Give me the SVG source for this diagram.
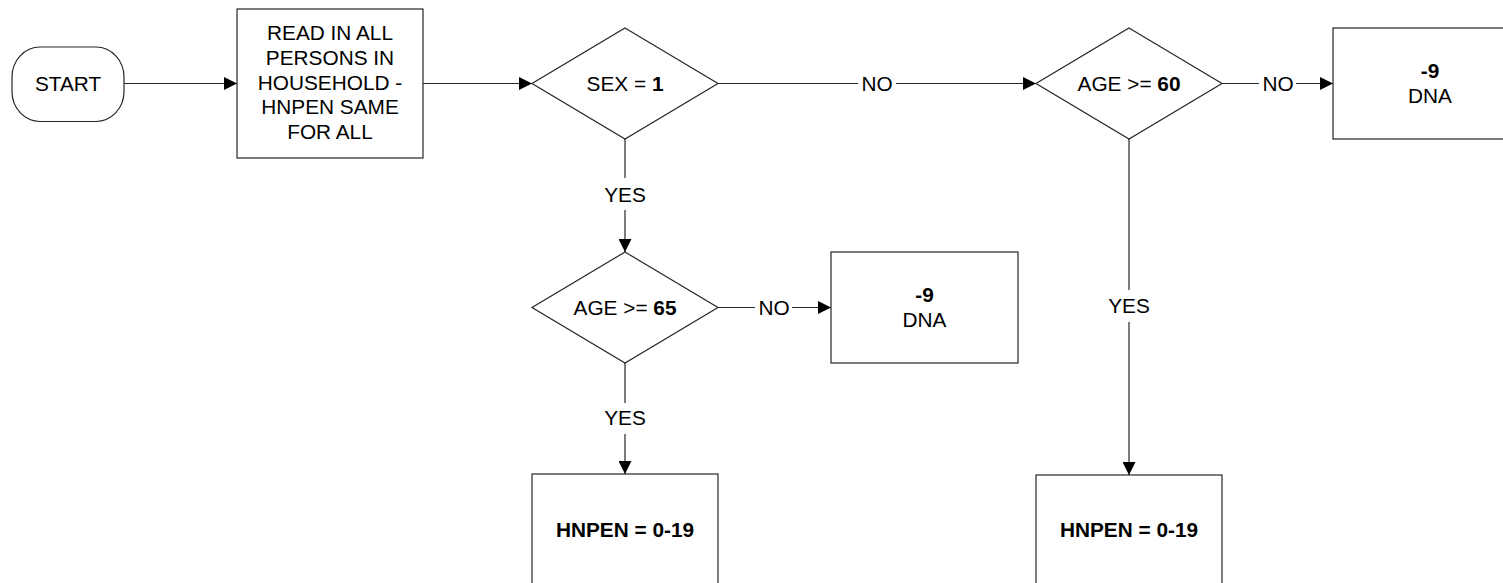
<svg xmlns="http://www.w3.org/2000/svg" width="1503" height="583" viewBox="0 0 1503 583">
<style>
  .shape { fill: #ffffff; stroke: #262626; stroke-width: 1.2; }
  .conn { fill: none; stroke: #262626; stroke-width: 1.2; }
  .t { font-family: "Liberation Sans", Arial, sans-serif; font-size: 20.8px; fill: #000000; text-anchor: middle; }
  .b { font-weight: bold; }
</style>
<defs>
  <marker id="arrow" markerUnits="userSpaceOnUse" markerWidth="13" markerHeight="13" refX="13" refY="6.5" orient="auto">
    <path d="M0,0 L13,6.5 L0,13 Z" fill="#000000"/>
  </marker>
</defs>
<rect width="1503" height="583" fill="#ffffff"/>

<g id="connectors">
  <line class="conn" x1="124" y1="83.5" x2="237" y2="83.5" marker-end="url(#arrow)"/>
  <line class="conn" x1="423" y1="83.5" x2="532" y2="83.5" marker-end="url(#arrow)"/>
  <line class="conn" x1="718" y1="83.5" x2="858" y2="83.5"/>
  <line class="conn" x1="896" y1="83.5" x2="1036" y2="83.5" marker-end="url(#arrow)"/>
  <text class="t" x="877" y="91">NO</text>
  <line class="conn" x1="1222" y1="83.5" x2="1259" y2="83.5"/>
  <line class="conn" x1="1296" y1="83.5" x2="1333" y2="83.5" marker-end="url(#arrow)"/>
  <text class="t" x="1278" y="91">NO</text>
  <line class="conn" x1="625" y1="139" x2="625" y2="178"/>
  <line class="conn" x1="625" y1="210" x2="625" y2="252" marker-end="url(#arrow)"/>
  <text class="t" x="625" y="202">YES</text>
  <line class="conn" x1="718" y1="307.5" x2="755" y2="307.5"/>
  <line class="conn" x1="792" y1="307.5" x2="831" y2="307.5" marker-end="url(#arrow)"/>
  <text class="t" x="774" y="315">NO</text>
  <line class="conn" x1="625" y1="363" x2="625" y2="403"/>
  <line class="conn" x1="625" y1="434" x2="625" y2="474" marker-end="url(#arrow)"/>
  <text class="t" x="625" y="425">YES</text>
  <line class="conn" x1="1129" y1="139" x2="1129" y2="290"/>
  <line class="conn" x1="1129" y1="322" x2="1129" y2="475" marker-end="url(#arrow)"/>
  <text class="t" x="1129" y="313">YES</text>
</g>

<g id="start">
  <rect class="shape" x="12" y="47" width="112" height="74.5" rx="28" ry="30"/>
  <text class="t" x="68" y="91">START</text>
</g>

<g id="read">
  <rect class="shape" x="237" y="9" width="186" height="149"/>
  <text class="t" x="330" y="40">READ IN ALL</text>
  <text class="t" x="330" y="64.75">PERSONS IN</text>
  <text class="t" x="330" y="89.5">HOUSEHOLD -</text>
  <text class="t" x="330" y="114.25">HNPEN SAME</text>
  <text class="t" x="330" y="139">FOR ALL</text>
</g>

<g id="sex">
  <polygon class="shape" points="625,28 718,83.5 625,139 532,83.5"/>
  <text class="t" x="625" y="91">SEX = <tspan class="b">1</tspan></text>
</g>

<g id="age60">
  <polygon class="shape" points="1129,28 1222,83.5 1129,139 1036,83.5"/>
  <text class="t" x="1129" y="91">AGE &gt;= <tspan class="b">60</tspan></text>
</g>

<g id="dna-top">
  <rect class="shape" x="1333" y="28" width="187" height="111"/>
  <text class="t b" x="1430" y="78">-9</text>
  <text class="t" x="1430" y="103">DNA</text>
</g>

<g id="age65">
  <polygon class="shape" points="625,252 718,307.5 625,363 532,307.5"/>
  <text class="t" x="625" y="315">AGE &gt;= <tspan class="b">65</tspan></text>
</g>

<g id="dna-mid">
  <rect class="shape" x="831" y="252" width="187" height="111"/>
  <text class="t b" x="924.5" y="302">-9</text>
  <text class="t" x="924.5" y="327">DNA</text>
</g>

<g id="hnpen-left">
  <rect class="shape" x="532" y="474" width="186" height="111"/>
  <text class="t b" x="625" y="537">HNPEN = 0-19</text>
</g>

<g id="hnpen-right">
  <rect class="shape" x="1036" y="475" width="186" height="111"/>
  <text class="t b" x="1129" y="537">HNPEN = 0-19</text>
</g>
</svg>
